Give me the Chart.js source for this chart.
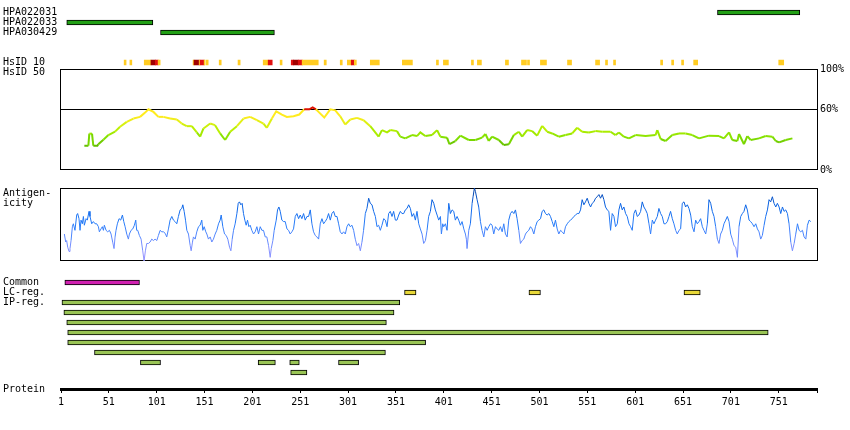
<!DOCTYPE html>
<html>
<head>
<meta charset="utf-8">
<title>Protein feature map</title>
<script src="https://cdn.jsdelivr.net/npm/chart.js"></script>
<style>
  body { margin: 0; background: #ffffff; }
  #wrap { position: relative; width: 850px; height: 430px; overflow: hidden;
          font-family: 'DejaVu Sans Mono', monospace; font-size: 10px; color: #000; }
  #wrap canvas { position: absolute; left: 0; }
  .lbl { position: absolute; left: 3px; line-height: 10px; white-space: nowrap; }
</style>
</head>
<body>
<div id="wrap">
  <canvas id="hpa" width="850" height="40" style="top:0px"></canvas>
  <canvas id="hsid10" width="850" height="11" style="top:57px"></canvas>
  <canvas id="hsid50" width="850" height="120" style="top:60px"></canvas>
  <canvas id="antigen" width="850" height="74" style="top:187px"></canvas>
  <canvas id="features" width="850" height="110" style="top:270px"></canvas>
  <canvas id="protein" width="850" height="50" style="top:364px"></canvas>

  <div class="lbl" style="top:57px">HsID 10</div>
  <div class="lbl" style="top:67px">HsID 50</div>
  <div class="lbl" style="top:188px">Antigen-</div>
  <div class="lbl" style="top:198px">icity</div>
  <div class="lbl" style="top:277px">Common</div>
  <div class="lbl" style="top:287px">LC-reg.</div>
  <div class="lbl" style="top:297px">IP-reg.</div>
  <div class="lbl" style="top:384px">Protein</div>
</div>

<script>
// residue range of the protein
var RES_MIN = 1;
var RES_MAX = 791;

// antibody antigen regions
var hpaNames = ['HPA022031', 'HPA022033', 'HPA030429'];
var hpaStart = [687, 7, 105];
var hpaEnd   = [773, 97, 224];

// HsID 10 strip: segment start, end, level (1 = yellow, 2 = red, 3 = dark red)
var hsid10Start = [67, 73, 88, 95, 99.6, 102.5, 139, 140, 145.4, 146.4, 150.6, 152.7, 166.3, 186, 212.3, 217.5, 230,
                   241.6, 243.7, 248.9, 253, 276, 292.8, 300.2, 304.3, 307.5, 324.2, 357.7, 393.3, 400.6, 429.9,
                   436.1, 465.4, 482.2, 488.5, 502, 530.3, 559.6, 570, 578.4, 627.6, 639.1, 649.5, 662.1, 751];
var hsid10End   = [69, 75, 95, 99.6, 102.5, 104.6, 140, 145.4, 146.4, 150.6, 151.6, 154.8, 168.4, 188.2, 217.5, 221.7, 232,
                   243.7, 248.9, 253, 269.8, 278.2, 294.9, 304.3, 307.5, 309.6, 333.6, 368.2, 395.4, 405.8, 432,
                   440.3, 468.6, 487.4, 490.6, 508.3, 534.5, 563.8, 572.1, 580.5, 629.7, 641.2, 651.6, 666.3, 756.2];
var hsid10Level = [1, 1, 1, 3, 2, 1, 1, 3, 1, 2, 1, 1, 1, 1, 1, 2, 1,
                   2, 3, 2, 1, 1, 1, 1, 2, 1, 1, 1, 1, 1, 1,
                   1, 1, 1, 1, 1, 1, 1, 1, 1, 1, 1, 1, 1, 1];

// HsID 50 identity (%)
var pctTicks = [0, 60, 100];
var hsidThreshold = 60;
var hsid50Pos = [25.4,29.6,30.6,33.4,34.8,39,40,45.3,50.5,57.5,
  62.7,69.7,76.7,83.6,88.9,92.4,97.6,102.8,108,115,
  122,127.2,132.4,137.7,142.9,146.4,149.9,156.9,162,167.3,
  172.5,177.8,184.8,191.7,198.7,205.7,212.6,216.1,221.4,225.9,
  231.8,237,244,250,255.2,260.5,264,267.4,270.9,276.1,
  282.4,287.6,292.8,298,303.3,310.3,317.2,324.2,332.9,336.4,
  341.7,345.1,352.1,355.6,360.8,367.8,373,376.5,381.7,388.7,
  394,397.4,404.4,406.9,413.1,418.4,427.1,434.1,441,444.5,
  448,451.5,458.5,463.7,469,474.2,479.4,482.9,488.1,493.3,
  498.6,503.8,509,514.3,521.2,528.2,535.2,540.4,545.6,552.6,
  559.6,566.6,575.3,580.5,584,589.2,594.5,601.4,611.9,622.3,
  624.1,627.6,632.8,639.8,646.8,653.7,660.7,667.7,678.1,688.6,
  693.8,699.1,702.5,707.8,709.5,714.7,718.2,721.7,730.4,737.4,
  744.4,747.9,751.4,758.3,765.3];
var hsid50Val = [24,24,36,36,24,24,25.5,30,34.6,38,
  42.8,47.7,50.9,52.6,56.8,60.1,57.5,52.6,52.6,50.9,
  50,46,43.4,43.4,37.2,33,41.1,46,44.4,36.2,
  29.7,37.9,43.4,50.9,52.6,49.3,46,41.8,50.9,58.1,
  54.9,52.6,53.2,54.9,60.1,60.1,62,60.1,56.8,51.9,
  60.1,59.1,53.2,45.1,50,51.6,49.3,43.4,33,39.5,
  37.2,39.5,38.5,33,31.3,34.6,33.6,37.2,33.6,34.6,
  39.5,33,32,25.5,28.7,34,29.7,29.7,32,35.6,
  28.7,33,29.7,24.8,25.5,34.6,37.9,33,39.5,38.5,
  34,43.7,37.9,36.2,33,34.6,36.2,41.8,37.9,37.2,
  38.5,37.9,37.9,34.6,37.2,33,31.3,34.6,33.6,34.6,
  39.5,30.7,28.7,34.6,36.2,36.2,34.6,31.3,34,33.6,
  31.3,37.2,29.7,28.7,35.6,25.5,33.6,29.7,31.3,33.6,
  33,28.7,27.4,29.7,31.3];

// antigenicity profile (relative score, 0 = box bottom, 100 = box top)
var antigenPos = [4.5,5.9,6.9,8.0,9.4,10.4,11.5,12.9,13.9,15.6,
  17.4,18.4,19.8,20.9,21.9,23.3,24.4,25.4,27.2,28.5,
  30.3,31.3,33.1,34.8,36.6,38.3,40.1,41.1,42.8,44.2,
  45.3,46.3,48.1,49.8,51.6,53.3,55.0,56.4,57.5,58.5,
  59.9,61.7,63.4,65.2,66.6,68.0,69.7,71.4,72.5,74.2,
  76.0,77.7,79.1,80.1,81.2,82.9,84.7,86.4,87.8,89.2,
  90.6,92.4,94.1,95.8,97.6,99.3,101.1,102.8,104.6,106.3,
  108.0,109.8,111.5,113.3,115.0,116.8,118.5,120.2,122.0,123.7,
  125.5,127.2,128.3,129.7,131.1,132.5,134.2,136.0,137.0,138.4,
  139.4,141.2,142.9,144.7,146.4,148.1,149.2,150.6,152.3,153.4,
  155.1,156.9,158.6,160.3,162.1,163.8,165.6,167.3,168.4,170.1,
  171.9,173.6,175.3,177.1,178.5,179.9,181.3,183.0,184.8,186.2,
  187.5,188.9,190.3,191.7,193.1,194.5,195.9,197.3,198.7,200.4,
  202.2,203.9,205.7,207.4,209.2,210.9,212.6,214.4,216.1,217.9,
  219.6,220.7,222.4,223.8,225.9,227.3,228.7,230.1,231.8,233.6,
  235.3,237.1,238.8,240.5,242.3,244.0,245.8,247.5,249.3,251.0,
  252.7,254.5,256.2,258.0,259.7,261.5,263.2,264.9,266.7,268.4,
  270.2,271.9,273.7,275.4,277.1,278.9,280.6,282.4,284.1,285.9,
  287.6,289.4,291.1,292.8,294.6,296.3,298.1,299.8,301.6,303.3,
  305.0,306.8,308.5,310.3,312.0,313.8,315.5,317.2,319.0,320.7,
  322.5,324.2,326.0,327.7,329.5,331.2,332.9,334.7,336.4,338.2,
  339.9,341.7,343.4,345.1,346.9,348.6,350.4,352.1,353.9,355.6,
  357.3,359.1,360.8,362.6,364.3,366.1,367.8,369.5,371.3,373.0,
  374.8,376.5,378.3,380.0,381.8,383.5,385.2,387.0,388.7,390.5,
  392.2,394.0,395.7,397.5,398.5,399.9,400.9,402.7,404.4,406.2,
  407.9,409.7,411.4,413.1,414.9,416.6,418.4,420.1,421.9,423.6,
  424.6,425.3,427.1,428.8,430.6,431.6,433.0,434.1,435.8,437.5,
  439.3,441.0,442.8,444.5,446.3,448.0,449.8,451.5,453.2,455.0,
  456.7,458.5,460.2,462.0,463.7,465.4,467.2,468.9,470.7,472.4,
  474.2,475.9,477.6,479.4,481.1,482.9,484.6,486.4,488.1,489.8,
  491.6,493.3,495.1,496.8,498.6,500.3,502.1,503.8,505.5,507.3,
  509.0,510.8,512.5,514.3,516.0,517.7,519.5,521.2,523.0,524.7,
  526.5,528.2,530.0,531.7,533.4,535.2,536.9,538.7,540.4,542.2,
  543.9,545.6,547.4,549.1,550.9,552.6,554.4,556.1,557.8,559.6,
  561.3,563.1,564.8,566.6,568.3,570.0,571.8,573.5,575.3,577.0,
  578.8,580.5,582.3,584.0,585.7,587.5,589.2,591.0,592.7,594.5,
  596.2,597.9,599.7,601.4,603.2,604.9,606.7,608.4,610.1,611.9,
  613.6,615.4,617.1,618.9,620.6,622.3,624.1,625.8,627.6,629.3,
  631.1,632.8,634.6,636.3,638.0,639.8,641.5,643.3,645.0,646.8,
  648.5,650.2,652.0,653.7,655.5,657.2,659.0,660.7,662.5,664.2,
  665.9,667.7,669.4,671.2,672.9,674.7,676.4,678.1,679.9,681.6,
  683.4,685.1,686.9,688.6,690.3,692.1,693.8,695.6,697.3,699.1,
  700.8,702.5,704.3,706.0,707.8,709.5,711.3,713.0,714.7,716.5,
  718.2,720.0,721.7,723.5,725.2,727.0,728.7,730.4,732.2,733.9,
  735.7,737.4,739.2,740.9,742.6,744.4,746.1,747.9,749.6,751.4,
  753.1,754.9,756.6,758.3,760.1,761.8,763.6,765.3,767.1,768.8,
  770.6,772.3,774.0,775.8,777.5,779.3,781.0,782.8,784.5];
var antigenVal = [37,26,28,19,13,17,28,47,51,42,
  63,65,58,42,56,51,61,49,58,56,
  68,61,51,54,51,51,47,40,44,47,
  42,49,42,40,42,37,26,17,33,42,
  51,58,56,63,54,47,37,30,37,42,
  44,49,56,42,42,35,30,14,0,14,
  24,24,26,30,28,30,28,35,42,40,
  40,38,33,44,56,61,56,54,51,61,
  70,72,77,68,56,42,37,21,14,26,
  33,30,40,47,49,56,42,47,40,37,
  30,33,26,30,37,42,51,56,63,47,
  37,35,30,19,14,30,42,51,65,79,
  81,77,79,65,56,49,56,47,49,42,
  37,40,47,37,47,42,42,33,33,21,
  5,17,28,42,56,70,74,68,56,54,
  54,44,42,37,40,44,61,65,58,63,
  58,65,56,61,61,70,51,40,35,33,
  30,51,58,51,54,58,65,56,65,68,
  61,61,51,40,37,40,37,47,51,47,
  49,42,30,21,24,14,26,42,65,72,
  86,79,77,68,61,47,49,42,49,58,
  56,47,65,68,61,68,56,56,63,68,
  65,65,70,72,77,72,61,65,56,68,
  51,44,37,24,28,42,61,68,84,79,
  70,63,56,61,37,51,47,51,42,79,
  65,70,68,56,61,56,49,54,44,37,
  30,17,42,51,79,88,100,95,84,74,
  54,42,33,47,42,47,51,49,37,47,
  44,42,47,40,51,37,33,56,65,68,
  65,70,58,42,24,28,30,37,40,42,
  47,44,37,47,54,56,58,68,70,65,
  63,65,61,54,47,56,44,37,42,40,
  37,47,51,54,56,58,61,63,65,65,
  70,84,77,81,86,79,74,79,81,86,
  88,91,86,91,84,74,70,68,42,65,
  61,47,51,70,79,70,74,65,61,51,
  47,42,65,70,61,63,68,81,74,70,
  65,51,37,56,51,56,61,72,65,61,
  51,51,54,61,68,58,51,42,37,42,
  44,79,81,74,77,72,63,47,40,56,
  51,54,58,47,42,37,51,84,79,68,
  61,47,30,24,37,42,51,56,61,54,
  37,30,21,19,5,47,61,65,68,77,
  70,56,54,51,47,51,44,40,30,35,
  49,61,70,84,81,88,79,74,79,74,
  65,74,68,70,65,51,26,14,24,37,
  51,42,40,42,33,30,49,56,54];

// sequence features
var commonStart = [5];
var commonEnd   = [83];
var lcStart = [360, 490, 652];
var lcEnd   = [372, 502, 669];
var ipRow   = [0, 1, 2, 3, 4, 5, 6, 6, 6, 6, 7];
var ipStart = [2, 4, 7, 8, 8, 36, 84, 207, 240, 291, 241];
var ipEnd   = [355, 349, 341, 740, 382, 340, 105, 225, 250, 312, 258];

// protein axis tick labels
var proteinTicks = [1, 51, 101, 151, 201, 251, 301, 351, 401, 451, 501, 551, 601, 651, 701, 751];

var FONT = { family: 'DejaVu Sans Mono', size: 10 };
var PAD_L = 61, PAD_R = 33;

Chart.defaults.font.family = 'DejaVu Sans Mono';
Chart.defaults.color = '#000';

// draws the black box round a plot area
var framePlugin = {
  id: 'frame',
  beforeDatasetsDraw: function (chart) {
    var a = chart.chartArea, c = chart.ctx;
    c.save();
    c.strokeStyle = '#000';
    c.lineWidth = 1;
    c.strokeRect(Math.round(a.left) - 0.5, Math.round(a.top) + 0.5,
                 Math.round(a.right - a.left) + 1, Math.round(a.bottom - a.top) - 1);
    c.restore();
  }
};

function residueScale() {
  return { type: 'linear', min: RES_MIN, max: RES_MAX, display: false, offset: false };
}

function rowScale(rows) {
  return { type: 'linear', min: -0.5, max: rows - 0.5, reverse: true, display: false,
           offset: false, grace: 0 };
}

function commonOptions(pad, scales) {
  return {
    responsive: false,
    animation: false,
    devicePixelRatio: 1,
    layout: { padding: pad },
    plugins: { legend: { display: false }, tooltip: { enabled: false } },
    scales: scales
  };
}

function barSet(starts, ends, rows, color) {
  return {
    data: starts.map(function (s, i) { return { x: [s, ends[i]], y: rows[i] }; }),
    backgroundColor: color,
    borderColor: '#000',
    borderWidth: 1,
    borderSkipped: false,
    barThickness: 5,
    grouped: false
  };
}

// blends a list of [value, [r,g,b]] stops
function blend(stops, v) {
  if (v <= stops[0][0]) return 'rgb(' + stops[0][1].join(',') + ')';
  for (var i = 1; i < stops.length; i++) {
    if (v <= stops[i][0]) {
      var a = stops[i - 1], b = stops[i];
      var t = (v - a[0]) / (b[0] - a[0]);
      var c = a[1].map(function (x, k) { return Math.round(x + (b[1][k] - x) * t); });
      return 'rgb(' + c.join(',') + ')';
    }
  }
  return 'rgb(' + stops[stops.length - 1][1].join(',') + ')';
}

// antibody rows
hpaNames.forEach(function (name, i) {
  var d = document.createElement('div');
  d.className = 'lbl';
  d.style.top = (7 + 10 * i) + 'px';
  d.textContent = name;
  document.getElementById('wrap').appendChild(d);
});

var hpaOpts = commonOptions({ left: PAD_L, right: PAD_R, top: 7.5, bottom: 2.5 },
                            { x: residueScale(), y: rowScale(3) });
hpaOpts.indexAxis = 'y';
new Chart(document.getElementById('hpa'), {
  type: 'bar',
  data: { datasets: [barSet(hpaStart, hpaEnd, [0, 1, 2], '#22a015')] },
  options: hpaOpts
});

// HsID 10 strip
var levelColors = { 1: '#ffcc22', 2: '#e01010', 3: '#a00000' };
var stripOpts = commonOptions({ left: PAD_L, right: PAD_R, top: 0.5, bottom: 0.5 },
                              { x: residueScale(), y: rowScale(1) });
stripOpts.indexAxis = 'y';
new Chart(document.getElementById('hsid10'), {
  type: 'bar',
  data: {
    datasets: [{
      data: hsid10Start.map(function (s, i) { return { x: [s, hsid10End[i]], y: 0 }; }),
      backgroundColor: hsid10Level.map(function (l) { return levelColors[l]; }),
      borderWidth: 0,
      barThickness: 5
    }]
  },
  options: stripOpts
});

// HsID 50 line, green when low, yellow near the threshold, red above it
var identityStops = [[25, [100, 190, 0]], [32, [130, 225, 0]], [40, [185, 240, 0]],
                     [47, [225, 240, 20]], [53, [255, 235, 30]]];
function identityColor(v) {
  return v >= hsidThreshold ? '#dd1100' : blend(identityStops, v);
}

new Chart(document.getElementById('hsid50'), {
  type: 'line',
  data: {
    datasets: [{
      data: hsid50Pos.map(function (p, i) { return { x: p, y: hsid50Val[i] }; }),
      borderColor: '#99ee00',
      borderWidth: 2,
      pointRadius: 0,
      tension: 0,
      segment: {
        borderColor: function (ctx) {
          return identityColor((ctx.p0.parsed.y + ctx.p1.parsed.y) / 2);
        }
      }
    }]
  },
  options: commonOptions({ left: PAD_L, right: 0, top: 8, bottom: 10 }, {
    x: residueScale(),
    y: {
      type: 'linear', min: 0, max: 100, position: 'right',
      afterFit: function (s) { s.width = PAD_R; },
      afterBuildTicks: function (s) { s.ticks = pctTicks.map(function (v) { return { value: v }; }); },
      ticks: { callback: function (v) { return v + '%'; }, font: FONT, color: '#000', padding: 3 },
      grid: {
        drawTicks: false,
        lineWidth: 1,
        color: function (c) { return c.tick && c.tick.value === hsidThreshold ? '#000' : 'rgba(0,0,0,0)'; }
      },
      border: { display: false }
    }
  }),
  plugins: [framePlugin]
});

// antigenicity line, lilac when low, deep blue when high
var antigenStops = [[0, [160, 150, 255]], [25, [110, 140, 255]], [50, [40, 125, 250]],
                    [75, [10, 100, 230]], [100, [0, 60, 160]]];

new Chart(document.getElementById('antigen'), {
  type: 'line',
  data: {
    datasets: [{
      data: antigenPos.map(function (p, i) { return { x: p, y: antigenVal[i] }; }),
      borderColor: '#3377ee',
      borderWidth: 1,
      pointRadius: 0,
      tension: 0,
      clip: 2,
      segment: {
        borderColor: function (ctx) {
          return blend(antigenStops, (ctx.p0.parsed.y + ctx.p1.parsed.y) / 2);
        }
      }
    }]
  },
  options: commonOptions({ left: PAD_L, right: PAD_R, top: 1, bottom: 0 }, {
    x: residueScale(),
    y: { type: 'linear', min: 0, max: 100, display: false }
  }),
  plugins: [framePlugin]
});

// Common / LC-reg. / IP-reg. features
var featOpts = commonOptions({ left: PAD_L, right: PAD_R, top: 7.5, bottom: 2.5 },
                             { x: residueScale(), y: rowScale(10) });
featOpts.indexAxis = 'y';
new Chart(document.getElementById('features'), {
  type: 'bar',
  data: {
    datasets: [
      barSet(commonStart, commonEnd, commonStart.map(function () { return 0; }), '#d020b0'),
      barSet(lcStart, lcEnd, lcStart.map(function () { return 1; }), '#e8d838'),
      barSet(ipStart, ipEnd, ipRow.map(function (r) { return r + 2; }), '#99c455')
    ]
  },
  options: featOpts
});

// protein axis
new Chart(document.getElementById('protein'), {
  type: 'line',
  data: { datasets: [] },
  options: commonOptions({ left: PAD_L, right: PAD_R, top: 0, bottom: 0 }, {
    x: {
      type: 'linear', min: RES_MIN, max: RES_MAX, position: 'bottom',
      afterBuildTicks: function (s) {
        s.ticks = proteinTicks.concat([RES_MAX]).map(function (v) { return { value: v }; });
      },
      afterFit: function (s) { s.height = 25; },
      ticks: {
        autoSkip: false, maxRotation: 0, font: FONT, color: '#000', padding: 3,
        callback: function (v) { return proteinTicks.indexOf(v) >= 0 ? String(v) : ''; }
      },
      grid: { drawOnChartArea: false, drawTicks: true, tickLength: 4, color: '#000', lineWidth: 1 },
      border: { display: true, width: 3, color: '#000' }
    },
    y: { display: false }
  })
});
</script>
</body>
</html>
